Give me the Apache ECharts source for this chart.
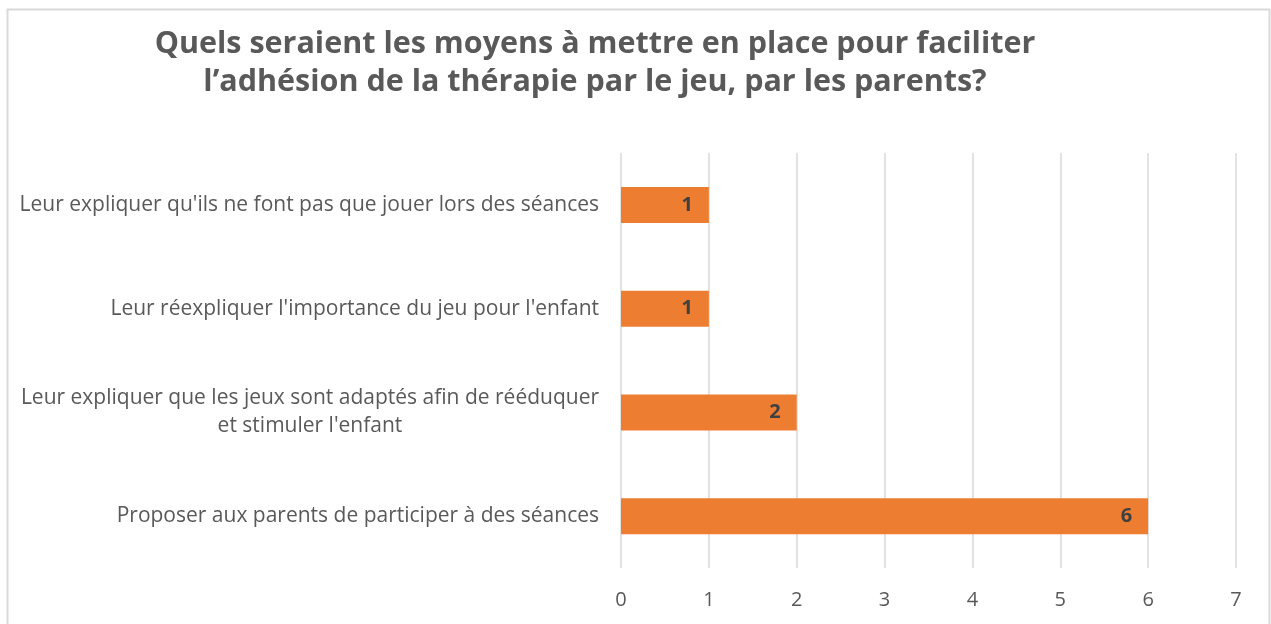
<!DOCTYPE html>
<html>
<head>
<meta charset="utf-8">
<script src="https://cdn.jsdelivr.net/npm/echarts@6/dist/echarts.min.js"></script>
<style>
  html, body { margin: 0; padding: 0; background: #fff; }
  #chart { width: 1271px; height: 624px; }
</style>
</head>
<body>
<div id="chart"></div>
<script>
var titleText = "Quels seraient les moyens à mettre en place pour faciliter\nl’adhésion de la thérapie par le jeu, par les parents?";
var categories = [
    "Leur expliquer qu'ils ne font pas que jouer lors des séances",
    "Leur réexpliquer l'importance du jeu pour l'enfant",
    "Leur expliquer que les jeux sont adaptés afin de rééduquer\net stimuler l'enfant",
    "Proposer aux parents de participer à des séances"
];
var counts = [1, 1, 2, 6];
var xTicks = [0, 1, 2, 3, 4, 5, 6, 7];

var fontName = "Open Sans";
var grey = "#595959";

var myChart = echarts.init(document.getElementById("chart"));
var option = {
    backgroundColor: "#fff",
    animation: false,
    title: {
        text: titleText,
        left: 590,
        top: 20,
        textAlign: "center",
        textStyle: {
            fontFamily: fontName,
            fontSize: 30.5,
            fontWeight: "bold",
            color: grey,
            lineHeight: 38
        }
    },
    graphic: [
        {
            type: "rect",
            shape: { x: 7.5, y: 9.5, width: 1262, height: 640 },
            style: { fill: null, stroke: "#d9d9d9", lineWidth: 2 },
            silent: true
        }
    ],
    grid: {
        left: 621,
        right: 35,
        top: 153,
        bottom: 56
    },
    xAxis: {
        type: "value",
        min: xTicks[0],
        max: xTicks[xTicks.length - 1],
        interval: 1,
        axisLine: { show: false },
        axisTick: { show: false },
        axisLabel: {
            margin: 22,
            fontFamily: fontName,
            fontSize: 20,
            color: grey
        },
        splitLine: {
            show: true,
            lineStyle: { color: "#d9d9d9", width: 1.5 }
        }
    },
    yAxis: {
        type: "category",
        data: categories,
        inverse: true,
        axisLine: { show: false },
        axisTick: { show: false },
        axisLabel: {
            margin: 22,
            align: "right",
            formatter: function (value) {
                //each line centred inside the label block
                return value.split("\n").map(function (l) {
                    return "{c|" + l + "}";
                }).join("\n");
            },
            rich: {
                c: {
                    align: "center",
                    fontFamily: fontName,
                    fontSize: 21,
                    color: grey,
                    lineHeight: 28
                }
            }
        }
    },
    series: [
        {
            type: "bar",
            data: counts,
            barWidth: 36,
            itemStyle: { color: "#ED7D31" },
            label: {
                show: true,
                position: "insideRight",
                distance: 16,
                fontFamily: fontName,
                fontSize: 20,
                fontWeight: "bold",
                color: "#404040"
            }
        }
    ]
};
myChart.setOption(option);
</script>
</body>
</html>
